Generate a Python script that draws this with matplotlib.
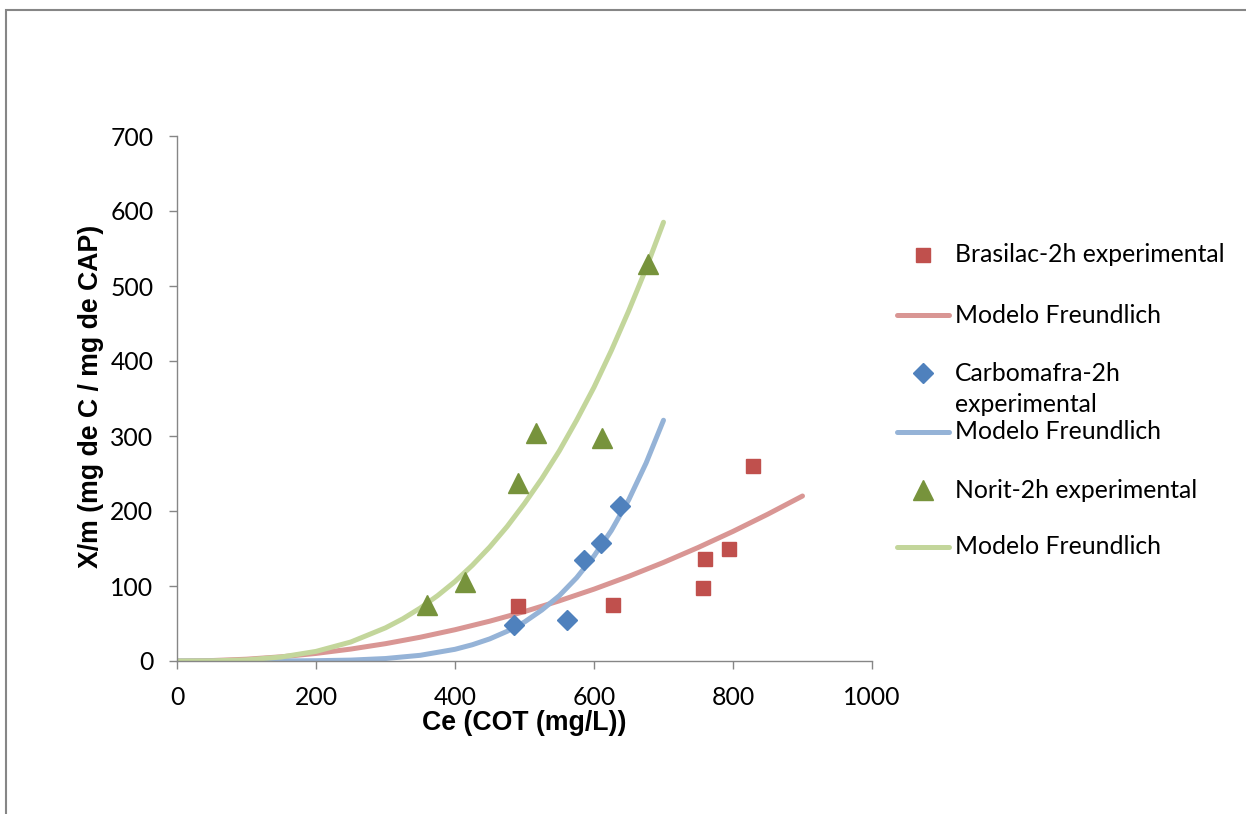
import matplotlib
matplotlib.use("Agg")
import matplotlib.pyplot as plt
from matplotlib.lines import Line2D
from matplotlib.patches import Rectangle

# experimental points (Ce, X/m)
bras_x = [491, 628, 757, 760, 794, 829]
bras_y = [73, 75, 97, 136, 149, 260]
carb_x = [485, 561, 586, 610, 638]
carb_y = [48, 55, 135, 158, 207]
norit_x = [360, 414, 491, 517, 611, 677]
norit_y = [75, 106, 238, 304, 298, 530]

# Freundlich model curves
bras_mx = [0, 50, 100, 150, 200, 250, 300, 350, 400, 450, 500, 550, 600, 650, 700, 750, 800, 850, 900]
bras_my = [0, 0.6, 2.4, 5.6, 10.1, 15.9, 23.1, 31.7, 41.7, 53.1, 65.9, 80.2, 95.8, 112.9, 131.4, 151.4, 172.8, 195.7, 220]
carb_mx = [0, 50, 100, 150, 200, 250, 300, 350, 400, 425, 450, 475, 500, 525, 550, 575, 600, 625, 650, 675, 700]
carb_my = [0, 0, 0.01, 0.08, 0.4, 1.2, 3.3, 7.6, 15.6, 21.7, 29.5, 39.6, 52, 68, 87, 111, 140, 174, 215, 264, 321]
norit_mx = [0, 50, 100, 150, 200, 250, 300, 325, 350, 375, 400, 425, 450, 475, 500, 525, 550, 575, 600, 625, 650, 675, 700]
norit_my = [0, 0.2, 1.5, 5.3, 12.8, 25.3, 44.2, 56.3, 70.6, 87.2, 106, 127.7, 152, 179.3, 210, 243.3, 280, 321,
            365, 414, 467, 523.5, 585]

xticks = [0, 200, 400, 600, 800, 1000]
yticks = [0, 100, 200, 300, 400, 500, 600, 700]

red, red_l = "#C0504D", "#D99694"
blue, blue_l = "#4F81BD", "#95B3D7"
green, green_l = "#77933C", "#C3D69B"
grey = "#868686"

plt.rcParams['font.family'] = ['Lato', 'DejaVu Sans']
fs = 17.8

W, H = 1246, 814
fig = plt.figure(figsize=(W / 100, H / 100), dpi=100)
fig.patch.set_facecolor("white")
fig.add_artist(Rectangle((5.5 / W, -0.05), 1.1, 1 - 9.5 / H + 0.05, transform=fig.transFigure,
                         fill=False, edgecolor=grey, lw=1.5))

ax = fig.add_axes([177 / W, 1 - 661 / H, (872 - 177) / W, (661 - 136) / H])
lw = 3.6
ax.plot(bras_mx, bras_my, color=red_l, lw=lw, solid_capstyle='round', solid_joinstyle='round', zorder=2)
ax.plot(carb_mx, carb_my, color=blue_l, lw=lw, solid_capstyle='round', solid_joinstyle='round', zorder=2)
ax.plot(norit_mx, norit_my, color=green_l, lw=lw, solid_capstyle='round', solid_joinstyle='round', zorder=2)
ax.plot(bras_x, bras_y, 's', color=red, ms=10.5, mec=red, zorder=3)
ax.plot(carb_x, carb_y, 'D', color=blue, ms=10, mec=blue, zorder=3)
ax.plot(norit_x, norit_y, '^', color=green, ms=14.5, mec=green, zorder=3)

ax.set_xlim(0, 1000)
ax.set_ylim(0, 700)
ax.set_xticks(xticks)
ax.set_yticks(yticks)
ax.tick_params(axis='both', labelsize=fs, color=grey, width=1, length=6, direction='out')
ax.tick_params(axis='x', pad=12)
ax.tick_params(axis='y', pad=11)
for s in ['top', 'right']:
    ax.spines[s].set_visible(False)
for s in ['left', 'bottom']:
    ax.spines[s].set_color(grey)
    ax.spines[s].set_linewidth(1)
ax.patch.set_alpha(0)

fig.text(524.5 / W, 1 - 723 / H, "Ce (COT (mg/L))", family="Liberation Sans", weight="bold",
         fontsize=19.2, ha="center", va="center")
fig.text(91 / W, 1 - 396 / H, "X/m (mg de C / mg de CAP)", family="Liberation Sans", weight="bold",
         fontsize=19.2, ha="center", va="center", rotation=90)


# legend drawn by hand to keep the wrapped label layout
def fx(px):
    return px / W


def fy(py):
    return 1 - py / H


leg = [
    ("marker", 's', red, 10.5, 255, "Brasilac-2h experimental"),
    ("line", None, red_l, None, 315, "Modelo Freundlich"),
    ("marker", 'D', blue, 10, 373, "Carbomafra-2h"),
    ("text", None, None, None, 404, "experimental"),
    ("line", None, blue_l, None, 432, "Modelo Freundlich"),
    ("marker", '^', green, 14.5, 490, "Norit-2h experimental"),
    ("line", None, green_l, None, 547, "Modelo Freundlich"),
]
for kind, m, c, ms, py, label in leg:
    if kind == "marker":
        fig.add_artist(Line2D([fx(923)], [fy(py)], marker=m, color=c, ms=ms, mec=c,
                              linestyle='none', transform=fig.transFigure))
    elif kind == "line":
        fig.add_artist(Line2D([fx(897), fx(949)], [fy(py), fy(py)], color=c, lw=lw,
                              solid_capstyle='round', transform=fig.transFigure))
    fig.text(fx(955), fy(py), label, fontsize=fs, ha="left", va="center")

fig.savefig("out.png", dpi=100)
